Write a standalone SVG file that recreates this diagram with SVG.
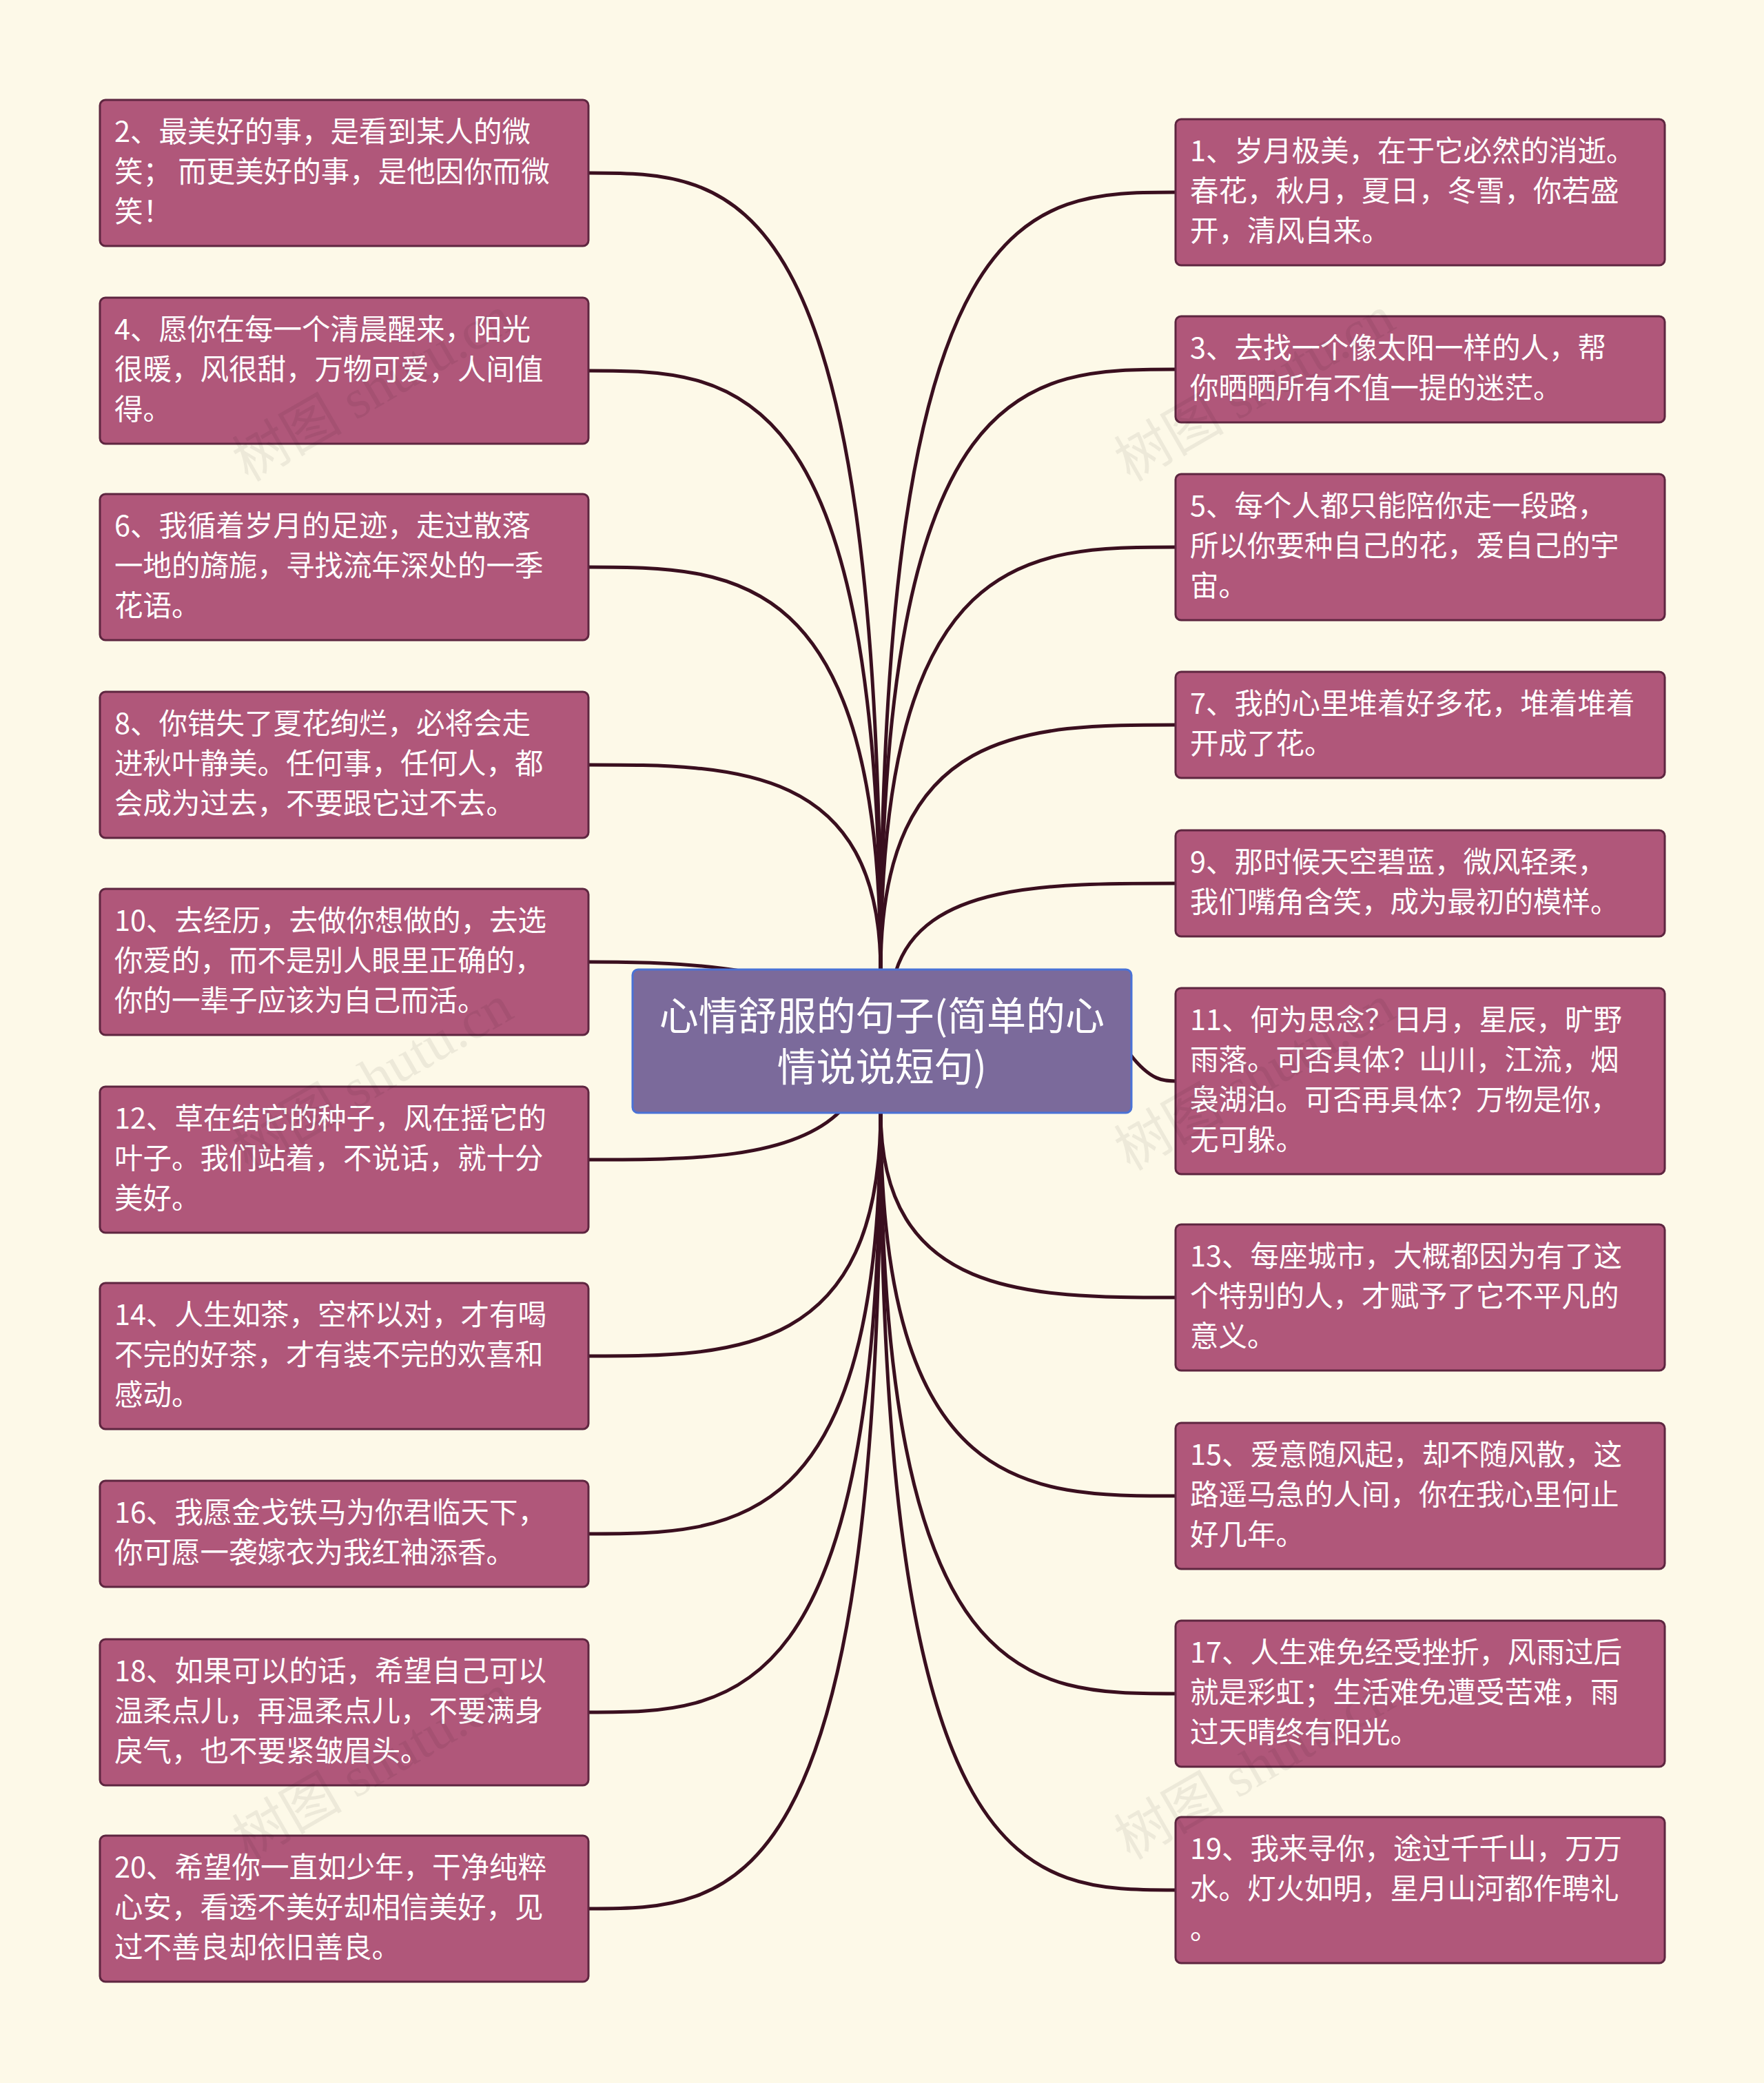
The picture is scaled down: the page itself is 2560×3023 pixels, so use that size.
<svg xmlns="http://www.w3.org/2000/svg" width="2560" height="3023" viewBox="0 0 2560 3023">
<style>
.n{fill:#b0577a;stroke:#5e2640;stroke-width:3}
.t{font-family:"Noto Sans CJK SC","Noto Sans",sans-serif;font-size:41.5px;fill:#fff}
.c{fill:none;stroke:#3a0f1f;stroke-width:5}
.w{font-family:"Liberation Serif","Noto Sans CJK SC",serif;font-size:80px;fill:#000;opacity:0.06}
</style>
<rect width="2560" height="3023" fill="#fdf9e8"/>
<g id="connectors">
<path class="c" d="M1278 1410 C1278 251 1066 251 854 251"/>
<path class="c" d="M1278 1410 C1278 538 1066 538 854 538"/>
<path class="c" d="M1278 1410 C1278 823 1066 823 854 823"/>
<path class="c" d="M1278 1410 C1278 1110 1066 1110 854 1110"/>
<path class="c" d="M1080 1410 C1000 1396 900 1396 854 1396"/>
<path class="c" d="M1220 1612 C1150 1683 1000 1683 854 1683"/>
<path class="c" d="M1278 1612 C1278 1968 1066 1968 854 1968"/>
<path class="c" d="M1278 1612 C1278 2226 1066 2226 854 2226"/>
<path class="c" d="M1278 1612 C1278 2485 1066 2485 854 2485"/>
<path class="c" d="M1278 1612 C1278 2770 1066 2770 854 2770"/>
<path class="c" d="M1278 1410 C1278 279 1492 279 1706 279"/>
<path class="c" d="M1278 1410 C1278 536 1492 536 1706 536"/>
<path class="c" d="M1278 1410 C1278 794 1492 794 1706 794"/>
<path class="c" d="M1278 1410 C1278 1052 1492 1052 1706 1052"/>
<path class="c" d="M1300 1410 C1340 1282 1520 1282 1706 1282"/>
<path class="c" d="M1640 1530 C1670 1569 1690 1569 1706 1569"/>
<path class="c" d="M1278 1612 C1278 1883 1492 1883 1706 1883"/>
<path class="c" d="M1278 1612 C1278 2171 1492 2171 1706 2171"/>
<path class="c" d="M1278 1612 C1278 2458 1492 2458 1706 2458"/>
<path class="c" d="M1278 1612 C1278 2743 1492 2743 1706 2743"/>
</g>
<g id="center"><rect x="918" y="1407" width="724" height="208" rx="8" fill="#7b6a9b" stroke="#4a72d6" stroke-width="3"/>
<text x="1280" y="1495" text-anchor="middle" style="font-family:'Noto Sans CJK SC',sans-serif;font-size:57px;fill:#fff">心情舒服的句子(简单的心</text>
<text x="1280" y="1569" text-anchor="middle" style="font-family:'Noto Sans CJK SC',sans-serif;font-size:57px;fill:#fff">情说说短句)</text></g>
<g id="n2"><rect class="n" x="145" y="145" width="709" height="212" rx="8"/><text class="t" x="166" y="206">2、最美好的事，是看到某人的微</text><text class="t" x="166" y="264">笑； 而更美好的事，是他因你而微</text><text class="t" x="166" y="322">笑！</text></g>
<g id="n4"><rect class="n" x="145" y="432" width="709" height="212" rx="8"/><text class="t" x="166" y="493">4、愿你在每一个清晨醒来，阳光</text><text class="t" x="166" y="551">很暖，风很甜，万物可爱，人间值</text><text class="t" x="166" y="609">得。</text></g>
<g id="n6"><rect class="n" x="145" y="717" width="709" height="212" rx="8"/><text class="t" x="166" y="778">6、我循着岁月的足迹，走过散落</text><text class="t" x="166" y="836">一地的旖旎，寻找流年深处的一季</text><text class="t" x="166" y="894">花语。</text></g>
<g id="n8"><rect class="n" x="145" y="1004" width="709" height="212" rx="8"/><text class="t" x="166" y="1065">8、你错失了夏花绚烂，必将会走</text><text class="t" x="166" y="1123">进秋叶静美。任何事，任何人，都</text><text class="t" x="166" y="1181">会成为过去，不要跟它过不去。</text></g>
<g id="n10"><rect class="n" x="145" y="1290" width="709" height="212" rx="8"/><text class="t" x="166" y="1351">10、去经历，去做你想做的，去选</text><text class="t" x="166" y="1409">你爱的，而不是别人眼里正确的，</text><text class="t" x="166" y="1467">你的一辈子应该为自己而活。</text></g>
<g id="n12"><rect class="n" x="145" y="1577" width="709" height="212" rx="8"/><text class="t" x="166" y="1638">12、草在结它的种子，风在摇它的</text><text class="t" x="166" y="1696">叶子。我们站着，不说话，就十分</text><text class="t" x="166" y="1754">美好。</text></g>
<g id="n14"><rect class="n" x="145" y="1862" width="709" height="212" rx="8"/><text class="t" x="166" y="1923">14、人生如茶，空杯以对，才有喝</text><text class="t" x="166" y="1981">不完的好茶，才有装不完的欢喜和</text><text class="t" x="166" y="2039">感动。</text></g>
<g id="n16"><rect class="n" x="145" y="2149" width="709" height="154" rx="8"/><text class="t" x="166" y="2210">16、我愿金戈铁马为你君临天下，</text><text class="t" x="166" y="2268">你可愿一袭嫁衣为我红袖添香。</text></g>
<g id="n18"><rect class="n" x="145" y="2379" width="709" height="212" rx="8"/><text class="t" x="166" y="2440">18、如果可以的话，希望自己可以</text><text class="t" x="166" y="2498">温柔点儿，再温柔点儿，不要满身</text><text class="t" x="166" y="2556">戾气，也不要紧皱眉头。</text></g>
<g id="n20"><rect class="n" x="145" y="2664" width="709" height="212" rx="8"/><text class="t" x="166" y="2725">20、希望你一直如少年，干净纯粹</text><text class="t" x="166" y="2783">心安，看透不美好却相信美好，见</text><text class="t" x="166" y="2841">过不善良却依旧善良。</text></g>
<g id="n1"><rect class="n" x="1706" y="173" width="710" height="212" rx="8"/><text class="t" x="1727" y="234">1、岁月极美，在于它必然的消逝。</text><text class="t" x="1727" y="292">春花，秋月，夏日，冬雪，你若盛</text><text class="t" x="1727" y="350">开，清风自来。</text></g>
<g id="n3"><rect class="n" x="1706" y="459" width="710" height="154" rx="8"/><text class="t" x="1727" y="520">3、去找一个像太阳一样的人，帮</text><text class="t" x="1727" y="578">你晒晒所有不值一提的迷茫。</text></g>
<g id="n5"><rect class="n" x="1706" y="688" width="710" height="212" rx="8"/><text class="t" x="1727" y="749">5、每个人都只能陪你走一段路，</text><text class="t" x="1727" y="807">所以你要种自己的花，爱自己的宇</text><text class="t" x="1727" y="865">宙。</text></g>
<g id="n7"><rect class="n" x="1706" y="975" width="710" height="154" rx="8"/><text class="t" x="1727" y="1036">7、我的心里堆着好多花，堆着堆着</text><text class="t" x="1727" y="1094">开成了花。</text></g>
<g id="n9"><rect class="n" x="1706" y="1205" width="710" height="154" rx="8"/><text class="t" x="1727" y="1266">9、那时候天空碧蓝，微风轻柔，</text><text class="t" x="1727" y="1324">我们嘴角含笑，成为最初的模样。</text></g>
<g id="n11"><rect class="n" x="1706" y="1434" width="710" height="270" rx="8"/><text class="t" x="1727" y="1495">11、何为思念？日月，星辰，旷野</text><text class="t" x="1727" y="1553">雨落。可否具体？山川，江流，烟</text><text class="t" x="1727" y="1611">袅湖泊。可否再具体？万物是你，</text><text class="t" x="1727" y="1669">无可躲。</text></g>
<g id="n13"><rect class="n" x="1706" y="1777" width="710" height="212" rx="8"/><text class="t" x="1727" y="1838">13、每座城市，大概都因为有了这</text><text class="t" x="1727" y="1896">个特别的人，才赋予了它不平凡的</text><text class="t" x="1727" y="1954">意义。</text></g>
<g id="n15"><rect class="n" x="1706" y="2065" width="710" height="212" rx="8"/><text class="t" x="1727" y="2126">15、爱意随风起，却不随风散，这</text><text class="t" x="1727" y="2184">路遥马急的人间，你在我心里何止</text><text class="t" x="1727" y="2242">好几年。</text></g>
<g id="n17"><rect class="n" x="1706" y="2352" width="710" height="212" rx="8"/><text class="t" x="1727" y="2413">17、人生难免经受挫折，风雨过后</text><text class="t" x="1727" y="2471">就是彩虹；生活难免遭受苦难，雨</text><text class="t" x="1727" y="2529">过天晴终有阳光。</text></g>
<g id="n19"><rect class="n" x="1706" y="2637" width="710" height="212" rx="8"/><text class="t" x="1727" y="2698">19、我来寻你，途过千千山，万万</text><text class="t" x="1727" y="2756">水。灯火如明，星月山河都作聘礼</text><text class="t" x="1727" y="2814">。</text></g>
<g id="watermarks">
<text class="w" transform="translate(360 700) rotate(-30)">树图 shutu.cn</text>
<text class="w" transform="translate(1640 700) rotate(-30)">树图 shutu.cn</text>
<text class="w" transform="translate(360 1700) rotate(-30)">树图 shutu.cn</text>
<text class="w" transform="translate(1640 1700) rotate(-30)">树图 shutu.cn</text>
<text class="w" transform="translate(360 2700) rotate(-30)">树图 shutu.cn</text>
<text class="w" transform="translate(1640 2700) rotate(-30)">树图 shutu.cn</text>
</g>
</svg>
